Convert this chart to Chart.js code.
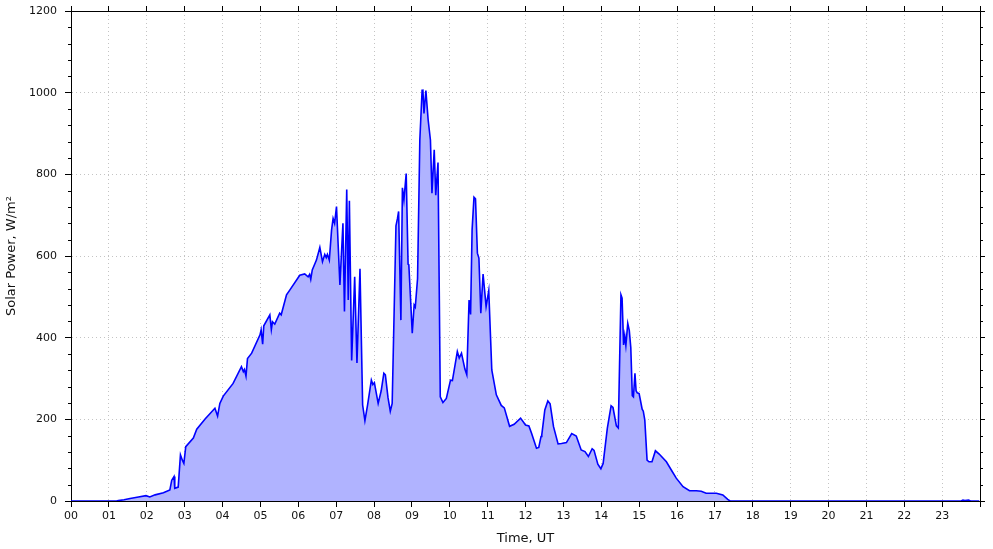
<!DOCTYPE html>
<html>
<head>
<meta charset="utf-8">
<script src="https://cdn.jsdelivr.net/npm/chart.js@4.4.1/dist/chart.umd.min.js"></script>
<style>
  html, body { margin: 0; padding: 0; background: #fff; }
  canvas { display: block; }
</style>
</head>
<body>
<canvas id="solarChart" width="993" height="549"></canvas>
<script>
// time of day, hours UT
const times = [
  0, 1.2, 1.25, 1.4, 1.56, 1.78, 1.98, 2.08, 2.22, 2.44, 2.61, 2.66, 2.72, 2.74, 2.83, 2.89, 2.94, 2.98,
  3.03, 3.23, 3.32, 3.54, 3.8, 3.87, 3.93, 4.02, 4.28, 4.5, 4.55, 4.58, 4.62, 4.66, 4.77, 4.99,
  5.02, 5.06, 5.09, 5.25, 5.29, 5.32, 5.38, 5.51, 5.55, 5.69, 5.78, 6.04, 6.17, 6.26, 6.3, 6.33,
  6.37, 6.48, 6.57, 6.64, 6.7, 6.74, 6.77, 6.82, 6.88, 6.92, 6.96, 7.01, 7.1, 7.18, 7.22, 7.28,
  7.32, 7.35, 7.41, 7.49, 7.55, 7.63, 7.7, 7.76, 7.83, 7.93, 7.97, 8.01, 8.11, 8.19, 8.26, 8.3,
  8.37, 8.43, 8.48, 8.58, 8.62, 8.65, 8.71, 8.75, 8.79, 8.85, 8.9, 8.92, 9.01, 9.06, 9.09, 9.15,
  9.21, 9.27, 9.29, 9.32, 9.37, 9.43, 9.49, 9.53, 9.59, 9.63, 9.69, 9.75, 9.82, 9.91, 10.02, 10.07,
  10.2, 10.25, 10.31, 10.4, 10.45, 10.51, 10.55, 10.59, 10.64, 10.68, 10.73, 10.77, 10.82, 10.88, 10.96, 11.03,
  11.11, 11.23, 11.36, 11.44, 11.58, 11.7, 11.87, 12.0, 12.09, 12.16, 12.29, 12.35, 12.41, 12.43, 12.51, 12.59,
  12.65, 12.74, 12.86, 12.95, 13.08, 13.22, 13.34, 13.47, 13.57, 13.66, 13.76, 13.81, 13.91, 13.99, 14.05, 14.16,
  14.26, 14.31, 14.4, 14.45, 14.52, 14.55, 14.59, 14.62, 14.65, 14.7, 14.74, 14.78, 14.82, 14.85, 14.89, 14.92,
  14.95, 15.0, 15.08, 15.11, 15.15, 15.21, 15.26, 15.34, 15.43, 15.53, 15.72, 15.85, 15.98, 16.16, 16.33, 16.51,
  16.64, 16.77, 17.04, 17.21, 17.34, 17.4, 23.5, 23.55, 23.6, 23.7, 23.75, 23.98
];

// solar power, W/m2
const power = [
  0, 0, 1, 3, 6, 10, 13, 10, 15, 20, 27, 51, 60, 31, 34, 113, 100, 92,
  133, 154, 176, 201, 227, 208, 239, 257, 288, 329, 317, 322, 306, 349, 362, 407,
  419, 384, 429, 456, 420, 439, 433, 460, 456, 505, 517, 553, 556, 549, 555, 543,
  566, 590, 621, 586, 604, 596, 604, 590, 664, 692, 680, 721, 529, 680, 464, 763,
  492, 735, 344, 549, 338, 569, 235, 197, 235, 296, 285, 290, 239, 270, 313, 309,
  253, 220, 239, 674, 692, 709, 443, 767, 737, 802, 580, 578, 411, 480, 475, 545,
  884, 1006, 1008, 949, 1005, 933, 884, 754, 860, 749, 829, 255, 241, 251, 296, 295,
  366, 350, 362, 323, 309, 492, 457, 664, 744, 740, 607, 595, 460, 556, 476, 515,
  321, 260, 234, 228, 183, 188, 203, 186, 184, 166, 129, 131, 158, 162, 223, 245,
  238, 182, 140, 141, 143, 165, 159, 125, 121, 109, 128, 124, 90, 79, 92, 178,
  233, 229, 184, 179, 505, 497, 382, 405, 381, 435, 418, 376, 258, 255, 313, 270,
  265, 263, 225, 220, 198, 100, 96, 96, 123, 115, 96, 76, 56, 35, 25, 25,
  24, 19, 19, 15, 4, 0, 0, 2, 1, 2, 0, 0
];

const yMajor = [0, 200, 400, 600, 800, 1000, 1200];
const hourLabels = ['00','01','02','03','04','05','06','07','08','09','10','11',
                    '12','13','14','15','16','17','18','19','20','21','22','23'];

const points = times.map((t, i) => ({ x: t, y: power[i] }));

const font = { family: 'DejaVu Sans', size: 11 };
const titleFont = { family: 'DejaVu Sans', size: 13 };
const gridDots = '#c4c4c4';

// short minor ticks on left and right y axes
const minorTicks = {
  id: 'minorTicks',
  afterDraw(chart) {
    const y = chart.scales.y;
    const { left, right } = chart.chartArea;
    const ctx = chart.ctx;
    ctx.save();
    ctx.strokeStyle = '#000';
    ctx.lineWidth = 1;
    for (let v = 0; v <= 1200; v += 40) {
      if (yMajor.includes(v)) continue;
      const py = Math.round(y.getPixelForValue(v)) + 0.5;
      ctx.beginPath();
      ctx.moveTo(left - 3, py); ctx.lineTo(left, py);
      ctx.moveTo(right, py); ctx.lineTo(right + 3, py);
      ctx.stroke();
    }
    ctx.restore();
  }
};

const ctx = document.getElementById('solarChart').getContext('2d');
new Chart(ctx, {
  type: 'line',
  data: {
    datasets: [{
      data: points,
      borderColor: '#0000ff',
      borderWidth: 1.6,
      backgroundColor: '#b0b3ff',
      fill: 'origin',
      pointRadius: 0,
      tension: 0
    }]
  },
  options: {
    responsive: false,
    animation: false,
    devicePixelRatio: 1,
    layout: { padding: 0 },
    plugins: { legend: { display: false }, tooltip: { enabled: false } },
    scales: {
      x: {
        type: 'linear', min: 0, max: 24,
        afterFit: s => { s.height = 48; },
        ticks: {
          stepSize: 1, color: '#111', font: font, padding: 3, maxRotation: 0, autoSkip: false,
          callback: v => hourLabels[v] || ''
        },
        grid: { color: gridDots, tickColor: '#000', tickLength: 6, tickBorderDash: [] },
        border: { display: true, color: '#000', dash: [1, 3] },
        title: { display: true, text: 'Time, UT', color: '#111', font: titleFont, padding: { top: 2, bottom: 3 } }
      },
      xTop: {
        type: 'linear', position: 'top', min: 0, max: 24,
        afterFit: s => { s.height = 11; },
        ticks: { stepSize: 1, display: false },
        grid: { drawOnChartArea: false, tickColor: '#000', tickLength: 5 },
        border: { display: true, color: '#000' }
      },
      y: {
        min: 0, max: 1200,
        afterFit: s => { s.width = 71; s.paddingTop = 0; s.paddingBottom = 0; },
        ticks: { stepSize: 200, color: '#111', font: font, padding: 8, callback: v => String(v) },
        grid: { color: gridDots, tickColor: '#000', tickLength: 6, tickBorderDash: [] },
        border: { display: true, color: '#000', dash: [1, 3] },
        title: { display: true, text: 'Solar Power, W/m²', color: '#111', font: titleFont, padding: { top: 4, bottom: 0 } }
      },
      yRight: {
        position: 'right', min: 0, max: 1200,
        afterFit: s => { s.width = 13; s.paddingTop = 0; s.paddingBottom = 0; },
        ticks: { stepSize: 200, display: false },
        grid: { drawOnChartArea: false, tickColor: '#000', tickLength: 5 },
        border: { display: true, color: '#000' }
      }
    }
  },
  plugins: [minorTicks]
});
</script>
</body>
</html>
